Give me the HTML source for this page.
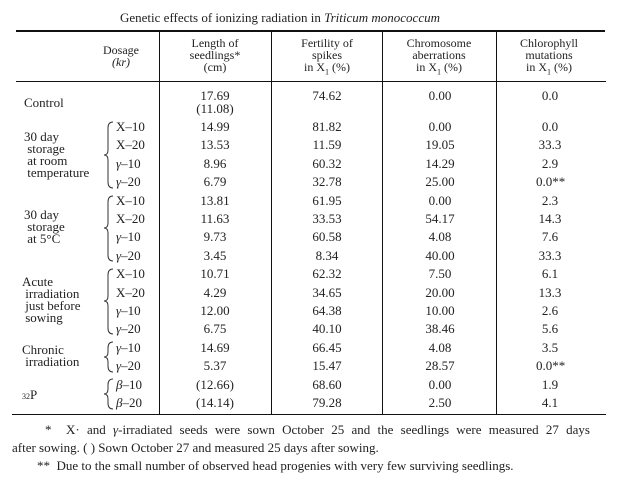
<!DOCTYPE html><html><head><style>
body{margin:0;width:637px;height:483px;background:#fff;position:relative;overflow:hidden;font-family:"Liberation Serif",serif;color:#222;font-size:13px}
.a{position:absolute;white-space:nowrap;line-height:13px}
.c{text-align:center;transform:translateX(-50%)}
.h{position:absolute;background:#111}
.s{font-size:12px;line-height:12px}
.g{line-height:12px}
</style></head><body>
<div class="a" style="left:120px;top:11px;font-size:13px">Genetic effects of ionizing radiation in <i>Triticum monococcum</i></div>
<div class="h" style="left:16px;top:30px;width:589px;height:2px"></div>
<div class="h" style="left:16px;top:81px;width:590px;height:1px"></div>
<div class="h" style="left:12px;top:414px;width:594px;height:1px"></div>
<div class="h" style="left:159px;top:31px;width:1px;height:384px"></div>
<div class="h" style="left:271px;top:31px;width:1px;height:384px"></div>
<div class="h" style="left:382px;top:31px;width:1px;height:384px"></div>
<div class="h" style="left:496px;top:31px;width:1px;height:384px"></div>

<div class="a s c" style="left:121px;top:44px">Dosage<br><i>(kr)</i></div>
<div class="a s c" style="left:215px;top:37px">Length of<br>seedlings*<br>(cm)</div>
<div class="a s c" style="left:327px;top:37px">Fertility of<br>spikes<br>in X<sub style="font-size:8px">1</sub> (%)</div>
<div class="a s c" style="left:439px;top:37px">Chromosome<br>aberrations<br>in X<sub style="font-size:8px">1</sub> (%)</div>
<div class="a s c" style="left:549px;top:37px">Chlorophyll<br>mutations<br>in X<sub style="font-size:8px">1</sub> (%)</div>

<div class="a" style="left:24px;top:96px">Control</div>
<div class="a c" style="left:215px;top:89px">17.69</div>
<div class="a c" style="left:215px;top:102px">(11.08)</div>
<div class="a c" style="left:327px;top:89px">74.62</div>
<div class="a c" style="left:440px;top:89px">0.00</div>
<div class="a c" style="left:550px;top:89px">0.0</div>

<div class="a g" style="left:24px;top:131px">30 day<br>&nbsp;storage<br>&nbsp;at room<br>&nbsp;temperature</div>
<div class="a g" style="left:24px;top:209px">30 day<br>&nbsp;storage<br>&nbsp;at 5°C</div>
<div class="a g" style="left:22px;top:276px">Acute<br>&nbsp;irradiation<br>&nbsp;just before<br>&nbsp;sowing</div>
<div class="a g" style="left:22px;top:344px">Chronic<br>&nbsp;irradiation</div>
<div class="a" style="left:22px;top:388px"><span style="font-size:8px">32</span>P</div>

<svg style="position:absolute;left:0;top:0" width="637" height="483" fill="none" stroke="#333" stroke-width="1">
<path d="M113 122 Q108 122 108 128 L108 150 Q108 155 104 155 Q108 155 108 160 L108 182 Q108 188 113 188"/>
<path d="M113 196 Q108 196 108 202 L108 223 Q108 228 104 228 Q108 228 108 233 L108 255 Q108 261 113 261"/>
<path d="M113 269 Q108 269 108 275 L108 296 Q108 301 104 301 Q108 301 108 306 L108 328 Q108 334 113 334"/>
<path d="M113 342 Q108 342 108 348 L108 352 Q108 357 104 357 Q108 357 108 362 L108 366 Q108 372 113 372"/>
<path d="M113 379 Q108 379 108 385 L108 389 Q108 394 104 394 Q108 394 108 399 L108 403 Q108 409 113 409"/>
</svg>

<div id="rows"></div>
<script>
var R=[["X–10","14.99","81.82","0.00","0.0"],["X–20","13.53","11.59","19.05","33.3"],["<i>γ</i>–10","8.96","60.32","14.29","2.9"],["<i>γ</i>–20","6.79","32.78","25.00","0.0**"],
["X–10","13.81","61.95","0.00","2.3"],["X–20","11.63","33.53","54.17","14.3"],["<i>γ</i>–10","9.73","60.58","4.08","7.6"],["<i>γ</i>–20","3.45","8.34","40.00","33.3"],
["X–10","10.71","62.32","7.50","6.1"],["X–20","4.29","34.65","20.00","13.3"],["<i>γ</i>–10","12.00","64.38","10.00","2.6"],["<i>γ</i>–20","6.75","40.10","38.46","5.6"],
["<i>γ</i>–10","14.69","66.45","4.08","3.5"],["<i>γ</i>–20","5.37","15.47","28.57","0.0**"],
["<i>β</i>–10","(12.66)","68.60","0.00","1.9"],["<i>β</i>–20","(14.14)","79.28","2.50","4.1"]];
var h="";R.forEach(function(r,k){var t=Math.round(127+18.4*k)-7;
h+='<div class="a" style="left:116px;top:'+t+'px">'+r[0]+'</div>';
h+='<div class="a c" style="left:215px;top:'+t+'px">'+r[1]+'</div>';
h+='<div class="a c" style="left:327px;top:'+t+'px">'+r[2]+'</div>';
h+='<div class="a c" style="left:440px;top:'+t+'px">'+r[3]+'</div>';
var x=r[4].indexOf("**")>0?'left:536px':'left:550px;transform:translateX(-50%)';
h+='<div class="a" style="'+x+';top:'+t+'px">'+r[4]+'</div>';});
document.getElementById("rows").innerHTML=h;
</script>

<div class="a" style="left:45px;top:423px;word-spacing:4px">*&nbsp; X· and <i>γ</i>-irradiated seeds were sown October 25 and the seedlings were measured 27 days</div>
<div class="a" style="left:12px;top:441px">after sowing. ( ) Sown October 27 and measured 25 days after sowing.</div>
<div class="a" style="left:37px;top:459px">**&nbsp; Due to the small number of observed head progenies with very few surviving seedlings.</div>
</body></html>
